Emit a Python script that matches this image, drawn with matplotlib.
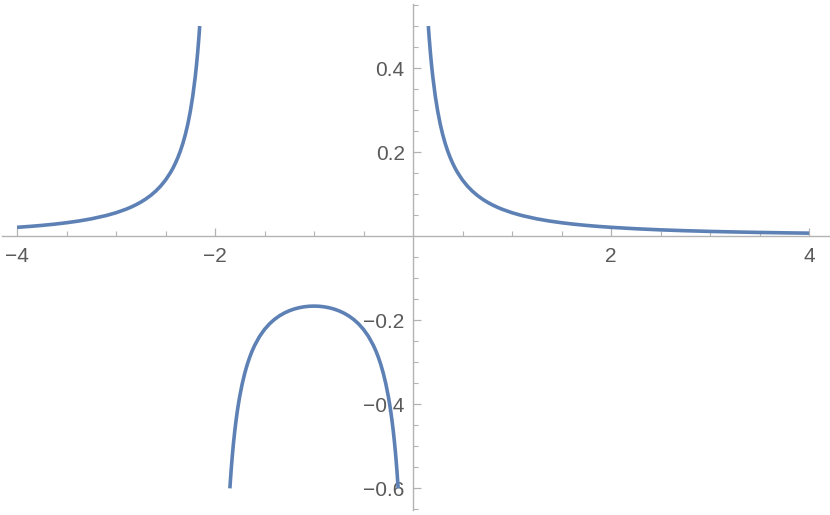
import numpy as np
import matplotlib
matplotlib.use("Agg")
import matplotlib.pyplot as plt
from matplotlib.ticker import FixedLocator

# values, three branches
left_x = [-4.0, -3.875, -3.75, -3.625, -3.5, -3.375, -3.25, -3.1, -3.0, -2.9,
          -2.85, -2.8, -2.75, -2.7, -2.65, -2.6, -2.55, -2.5, -2.45, -2.425, -2.4,
          -2.375, -2.35, -2.325, -2.3, -2.275, -2.25, -2.225, -2.2, -2.1875,
          -2.175, -2.1625, -2.1547]
left_y = [0.02083, 0.02294, 0.02540, 0.02829, 0.03175, 0.03591, 0.04103, 0.04888,
          0.05556, 0.06386, 0.06880, 0.07440, 0.08081, 0.08818, 0.09676, 0.10684,
          0.11884, 0.13333, 0.15117, 0.16171, 0.17361, 0.18713, 0.20263, 0.22057,
          0.24155, 0.26640, 0.29630, 0.33292, 0.37879, 0.40635, 0.43788, 0.47428,
          0.5]

mid_x = [-1.85, -1.8375, -1.825, -1.8125, -1.8, -1.7875, -1.775, -1.7625, -1.75,
         -1.725, -1.7, -1.675, -1.65, -1.625, -1.6, -1.55, -1.5, -1.45, -1.4,
         -1.35, -1.3, -1.25, -1.2, -1.15, -1.1, -1.05, -1.0,
         -0.95, -0.9, -0.85, -0.8, -0.75, -0.7, -0.65, -0.6, -0.55, -0.5, -0.45,
         -0.4, -0.375, -0.35, -0.325, -0.3, -0.275, -0.25, -0.2375, -0.225,
         -0.2125, -0.2, -0.1875, -0.175, -0.1625, -0.15]
mid_y = [-0.60060, -0.55817, -0.52185, -0.49042, -0.46296, -0.43878, -0.41732,
         -0.39816, -0.38095, -0.35134, -0.32680, -0.30616, -0.28860, -0.27350,
         -0.26042, -0.23895, -0.22222, -0.20899, -0.19841, -0.18993, -0.18315,
         -0.17778, -0.17361, -0.17050, -0.16835, -0.16708, -0.16667,
         -0.16708, -0.16835, -0.17050, -0.17361, -0.17778, -0.18315, -0.18993,
         -0.19841, -0.20899, -0.22222, -0.23895, -0.26042, -0.27350, -0.28860,
         -0.30616, -0.32680, -0.35134, -0.38095, -0.39816, -0.41732, -0.43878,
         -0.46296, -0.49042, -0.52185, -0.55817, -0.60060]

right_x = [0.1547, 0.1625, 0.175, 0.1875, 0.2, 0.225, 0.25, 0.275, 0.3, 0.325,
           0.35, 0.375, 0.4, 0.425, 0.45, 0.5, 0.55, 0.6, 0.65, 0.7, 0.75, 0.8,
           0.85, 0.9, 1.0, 1.1, 1.25, 1.375, 1.5, 1.625, 1.75, 1.875, 2.0, 2.25,
           2.5, 2.75, 3.0, 3.25, 3.5, 3.75, 4.0]
right_y = [0.5, 0.47428, 0.43788, 0.40635, 0.37879, 0.33292, 0.29630, 0.26640,
           0.24155, 0.22057, 0.20263, 0.18713, 0.17361, 0.16171, 0.15117, 0.13333,
           0.11884, 0.10684, 0.09676, 0.08818, 0.08081, 0.07440, 0.06880, 0.06386,
           0.05556, 0.04888, 0.04103, 0.03591, 0.03175, 0.02829, 0.02540, 0.02294,
           0.02083, 0.01743, 0.01481, 0.01276, 0.01111, 0.00977, 0.00866, 0.00773,
           0.00694]

x_major = [-4, -2, 2, 4]
x_labels = ["\u22124", "\u22122", "2", "4"]
y_major = [-0.6, -0.4, -0.2, 0.2, 0.4]
y_labels = ["\u22120.6", "\u22120.4", "\u22120.2", "0.2", "0.4"]

plt.rcParams['font.family'] = ['Liberation Sans', 'DejaVu Sans']

fig = plt.figure(figsize=(8.3, 5.15), dpi=100)
ax = fig.add_axes([0, 0, 1, 1])
ax.patch.set_alpha(0)

line_color = "#5E81B5"
for xs, ys in [(left_x, left_y), (mid_x, mid_y), (right_x, right_y)]:
    ax.plot(xs, ys, color=line_color, lw=2.6, solid_capstyle="butt",
            solid_joinstyle="round")

ax.set_xlim(-4.172, 4.212)
ax.set_ylim(-0.664, 0.562)

axis_gray = "#b3b3b3"
for s in ["top", "right"]:
    ax.spines[s].set_visible(False)
ax.spines["left"].set_position(("data", 0))
ax.spines["bottom"].set_position(("data", 0))
ax.spines["left"].set_bounds(-0.652, 0.552)
ax.spines["bottom"].set_bounds(-4.15, 4.21)
for s in ["left", "bottom"]:
    ax.spines[s].set_color(axis_gray)
    ax.spines[s].set_linewidth(1.0)

ax.xaxis.set_major_locator(FixedLocator(x_major))
ax.set_xticklabels(x_labels)
x_minor = [v / 2 for v in range(-8, 9) if v % 4 != 0]
ax.xaxis.set_minor_locator(FixedLocator(x_minor))

ax.yaxis.set_major_locator(FixedLocator(y_major))
ax.set_yticklabels(y_labels)
y_minor = [round(v * 0.05, 2) for v in range(-13, 12) if v % 4 != 0]
ax.yaxis.set_minor_locator(FixedLocator(y_minor))

ax.tick_params(axis="both", which="both", direction="in", color=axis_gray,
               labelcolor="#5a5a5a", labelsize=15)
ax.tick_params(axis="x", which="major", length=5.5, width=0.9, pad=8)
ax.tick_params(axis="x", which="minor", length=3.5, width=0.8)
ax.tick_params(axis="y", which="major", length=5.5, width=0.9, pad=6)
ax.tick_params(axis="y", which="minor", length=3.5, width=0.8)

fig.savefig("out.png", dpi=100)
